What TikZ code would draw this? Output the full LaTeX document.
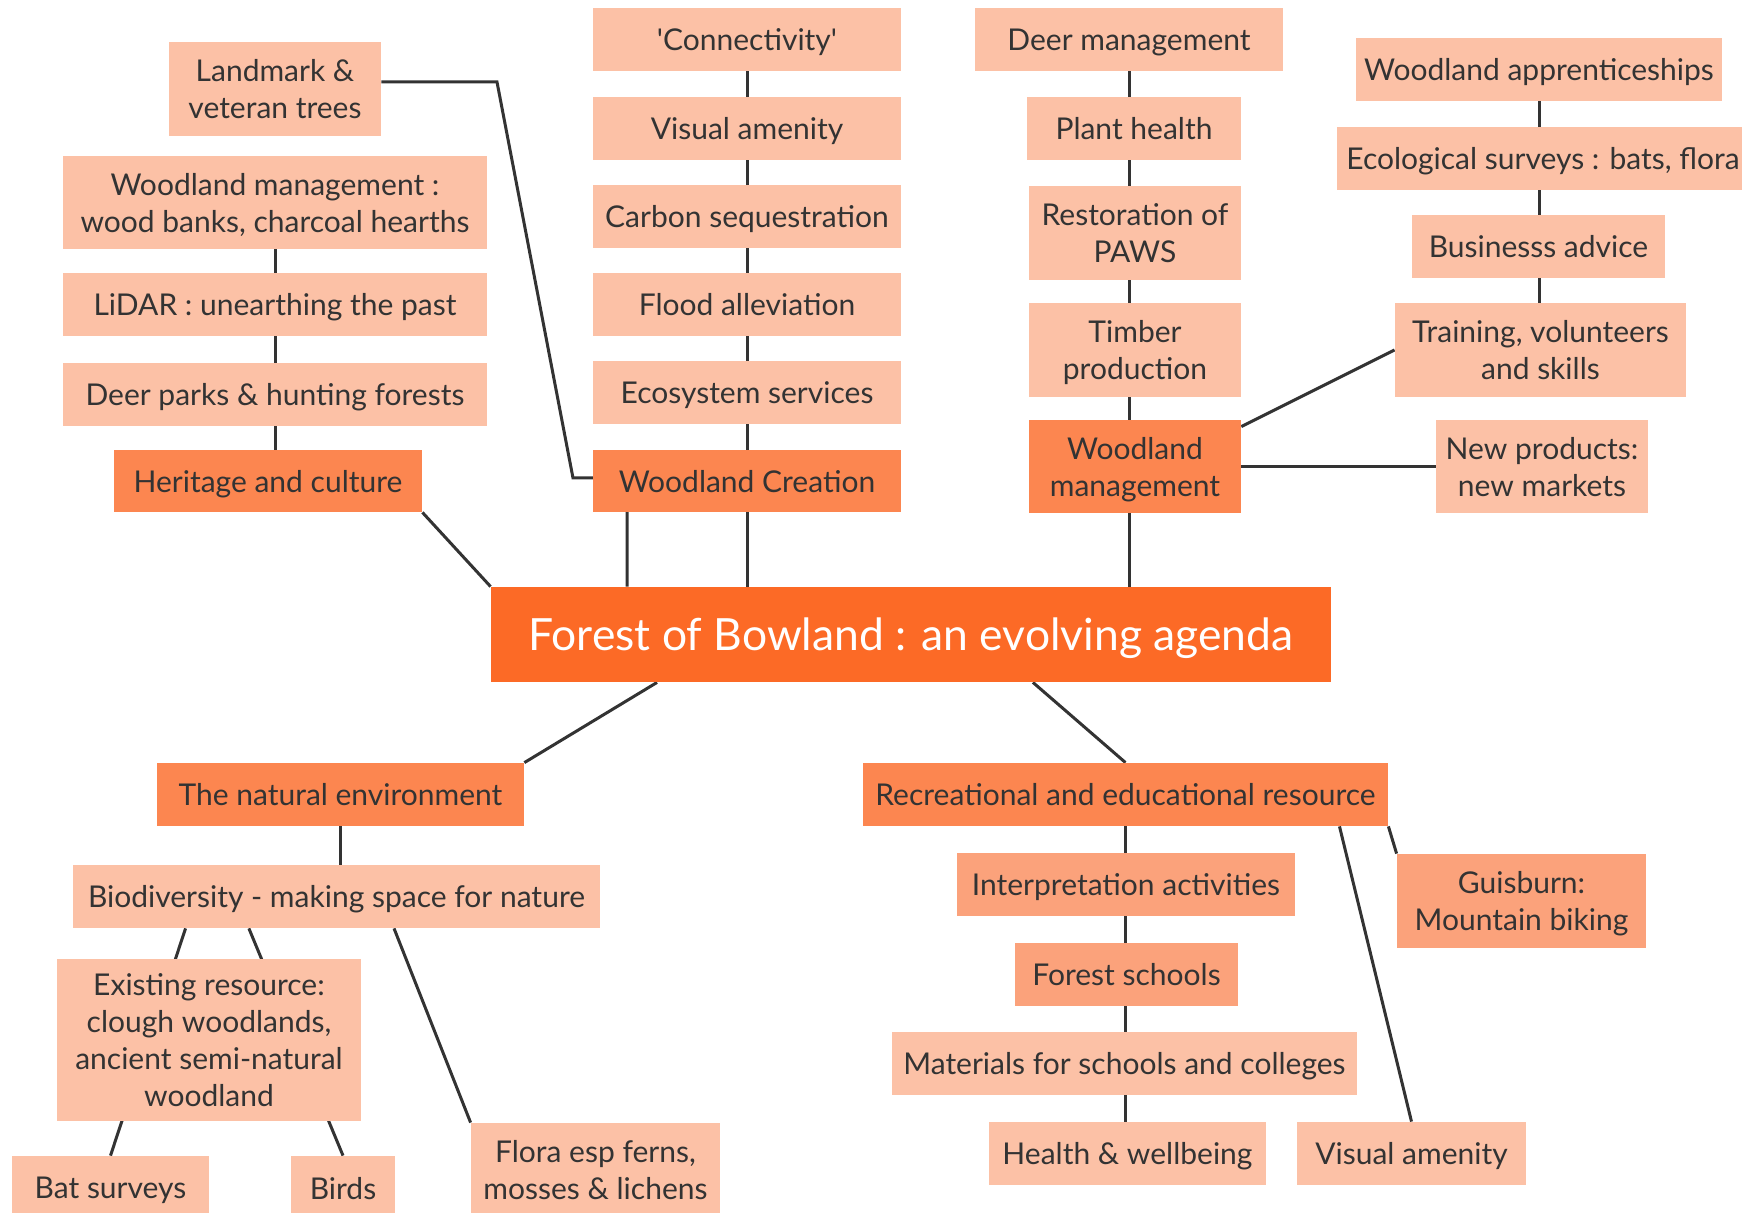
\documentclass[tikz,border=0pt]{standalone}
\usepackage{fontspec}
\setmainfont{Lato}[Ligatures=TeXOff]
\usetikzlibrary{backgrounds,calc}

\definecolor{hubfill}{HTML}{FC6A26}
\definecolor{branchfill}{HTML}{FC8650}
\definecolor{midfill}{HTML}{FBA27B}
\definecolor{leaffill}{HTML}{FCC1A6}
\definecolor{inkgrey}{HTML}{333333}

\tikzset{
  wh/.style 2 args={minimum width=#1*0.5pt, minimum height=#2*0.5pt},
  box/.style={fill=leaffill, text=inkgrey, align=center, inner sep=0pt, text depth=0pt,
    font=\fontsize{15}{18.5}\selectfont},
  branch/.style={box, fill=branchfill},
  midbox/.style={box, fill=midfill},
  hub/.style={box, fill=hubfill, text=white, font=\fontsize{22.2}{27}\selectfont},
  link/.style={draw=inkgrey, line width=1.5pt},
}

\begin{document}
\begin{tikzpicture}[x=0.5pt, y=-0.5pt]
    \useasboundingbox (0,0) rectangle (1742,1213);
    \node[hub, wh={840}{95}] (centre) at (911,634.5) {Forest of Bowland : an evolving agenda};
    % Heritage and culture.
        \node[box, wh={212}{94}] (landmark) at (275,89) {Landmark \&\\veteran trees};
        \node[box, wh={424}{93}] (oldwood) at (275,202.5) {Woodland management :\\wood banks, charcoal hearths};
        \node[box, wh={424}{63}] (lidar) at (275,304.5) {LiDAR : unearthing the past};
        \node[box, wh={424}{63}] (deerparks) at (275,394.5) {Deer parks \& hunting forests};
        \node[branch, wh={308}{62}] (heritage) at (268,481) {Heritage and culture};
    % Woodland creation.
        \node[box, wh={308}{63}] (connect) at (747,39.5) {'Connectivity'};
        \node[box, wh={308}{63}] (visual) at (747,128.5) {Visual amenity};
        \node[box, wh={308}{63}] (carbon) at (747,216.5) {Carbon sequestration};
        \node[box, wh={308}{63}] (flood) at (747,304.5) {Flood alleviation};
        \node[box, wh={308}{63}] (ecosys) at (747,392.5) {Ecosystem services};
        \node[branch, wh={308}{62}] (creation) at (747,481) {Woodland Creation};
    % Woodland management.
        \node[box, wh={308}{63}] (deermgmt) at (1129,39.5) {Deer management};
        \node[box, wh={214}{63}] (plant) at (1134,128.5) {Plant health};
        \node[box, wh={212}{94}] (paws) at (1135,233) {Restoration of\\PAWS};
        \node[box, wh={212}{94}] (timber) at (1135,350) {Timber\\production};
        \node[branch, wh={212}{93}] (management) at (1135,466.5) {Woodland\\management};
        \node[box, wh={366}{63}] (apprentice) at (1539,69.5) {Woodland apprenticeships};
        \node[box, wh={412}{63}] (surveys) at (1543,158.5) {Ecological surveys : bats, flora};
        \node[box, wh={253}{63}] (business) at (1538.5,246.5) {Businesss advice};
        \node[box, wh={291}{94}] (training) at (1540.5,350) {Training, volunteers\\and skills};
        \node[box, wh={212}{93}] (products) at (1542,466.5) {New products:\\new markets};
    % The natural environment.
        \node[branch, wh={367}{63}] (natural) at (340.5,794.5) {The natural environment};
        \node[box, wh={527}{63}] (biodiv) at (336.5,896.5) {Biodiversity - making space for nature};
        \node[box, wh={304}{162}] (existing) at (209,1040) {Existing resource:\\clough woodlands,\\ancient semi-natural\\woodland};
        \node[box, wh={197}{64}] (bats) at (110.5,1188) {Bat surveys};
        \node[box, wh={104}{64}] (birds) at (343,1188) {Birds};
        \node[box, wh={249}{94}] (flora) at (595.5,1170) {Flora esp ferns,\\mosses \& lichens};
    % Recreation and education.
        \node[branch, wh={525}{63}] (recreation) at (1125.5,794.5) {Recreational and educational resource};
        \node[midbox, wh={338}{63}] (interp) at (1126,884.5) {Interpretation activities};
        \node[midbox, wh={223}{63}] (fschools) at (1126.5,974.5) {Forest schools};
        \node[box, wh={465}{63}] (materials) at (1124.5,1063.5) {Materials for schools and colleges};
        \node[box, wh={277}{63}] (health) at (1127.5,1153.5) {Health \& wellbeing};
        \node[box, wh={229}{63}] (amenity) at (1411.5,1153.5) {Visual amenity};
        \node[midbox, wh={249}{94}] (guisburn) at (1521.5,901) {Guisburn:\\Mountain biking};
    % The connectors go behind the boxes.
    \begin{pgfonlayer}{background}
        \draw[link] (oldwood.south) -- (oldwood.south |- heritage.north);
        \draw[link] (heritage.south east) -- (centre.north west);
        \draw[link] ([yshift=3.5pt]landmark.east) -- (497,82) -- (573,478) -- (627,478) -- (627,478 |- centre.north);
        \draw[link] (connect.south) -- (connect.south |- centre.north);
        \draw[link] (deermgmt.south) -- (deermgmt.south |- centre.north);
        \draw[link] (apprentice.south) -- (apprentice.south |- training.north);
        \draw[link] ([yshift=-3.5pt]management.north east) -- (training.west);
        \draw[link] (management.east) -- (products.west);
        \draw[link] ($(centre.south west)!0.198!(centre.south east)$) -- (natural.north east);
        \draw[link] (natural.south) -- (natural.south |- biodiv.north);
        \draw[link] ($(biodiv.south west)!0.214!(biodiv.south east)$) -- (bats.north);
        \draw[link] ($(biodiv.south west)!0.334!(biodiv.south east)$) -- (birds.north);
        \draw[link] ($(biodiv.south west)!0.609!(biodiv.south east)$) -- (flora.north west);
        \draw[link] ($(centre.south west)!0.645!(centre.south east)$) -- (recreation.north);
        \draw[link] (recreation.south) -- (recreation.south |- health.north);
        \draw[link] ($(recreation.south west)!0.907!(recreation.south east)$) -- (amenity.north);
        \draw[link] (recreation.south east) -- (guisburn.north west);
    \end{pgfonlayer}
\end{tikzpicture}
\end{document}
